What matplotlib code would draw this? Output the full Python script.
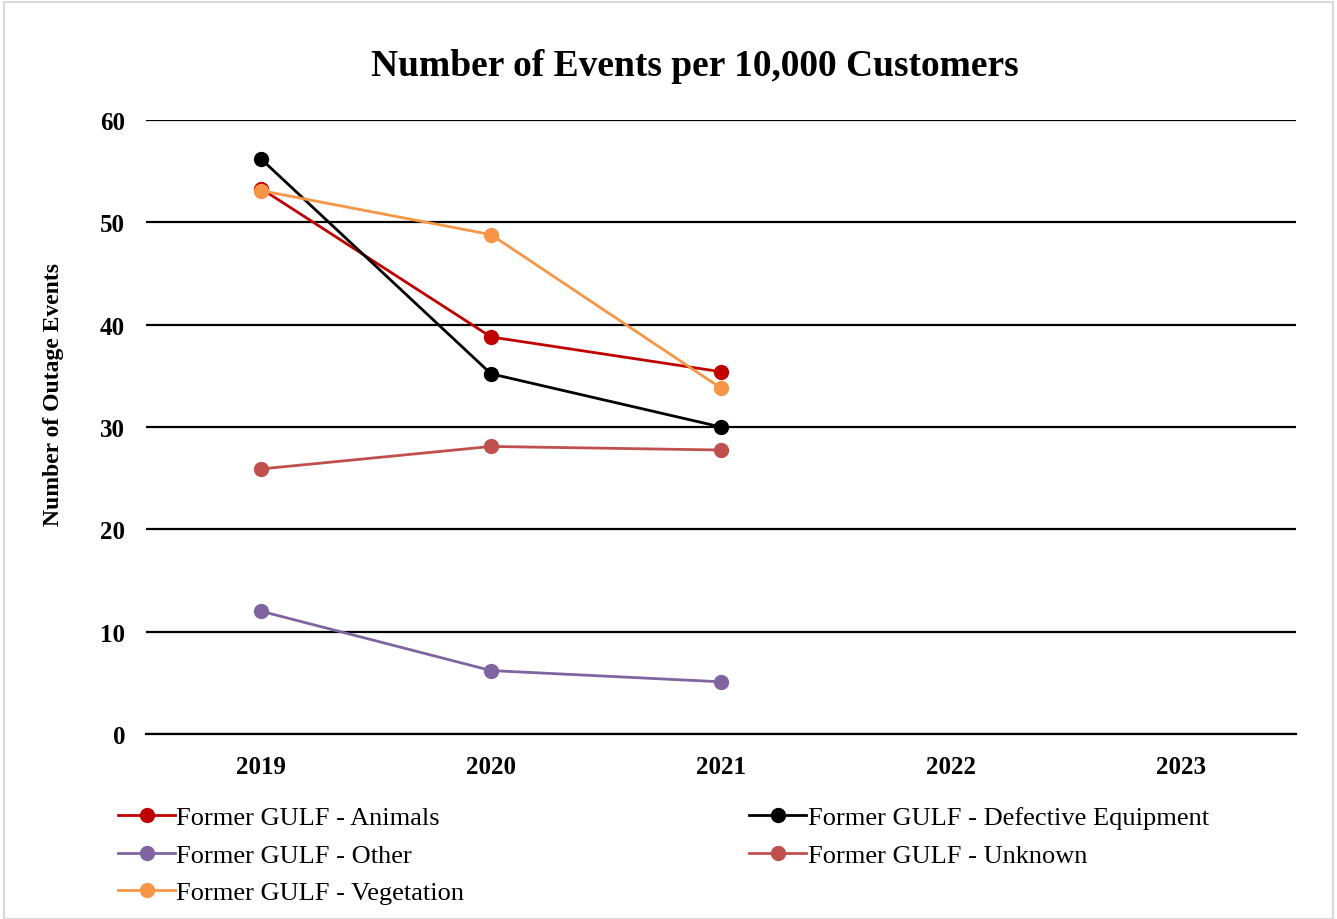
import matplotlib
matplotlib.use("Agg")
import matplotlib.pyplot as plt
from matplotlib.patches import Rectangle

years = ["2019", "2020", "2021", "2022", "2023"]
animals = [53.3, 38.8, 35.4]
defective = [56.2, 35.2, 30.0]
other = [12.0, 6.2, 5.1]
unknown = [25.9, 28.1, 27.75]
vegetation = [53.1, 48.8, 33.8]

series = [
    ("Former GULF - Animals", animals, "#C00000"),
    ("Former GULF - Defective Equipment", defective, "#000000"),
    ("Former GULF - Other", other, "#8064A2"),
    ("Former GULF - Unknown", unknown, "#C0504D"),
    ("Former GULF - Vegetation", vegetation, "#F79646"),
]

plt.rcParams['font.family'] = ['Liberation Serif', 'DejaVu Serif']

fig = plt.figure(figsize=(13.37, 9.2), dpi=100)
ax = fig.add_axes([146/1337, 1 - 735/920, 1150/1337, (735-121)/920])

xs = list(range(len(years)))
handles = {}
for name, vals, col in series:
    h, = ax.plot(xs[:len(vals)], vals, color=col, lw=2, marker='o', ms=10,
                 label=name, zorder=3)
    handles[name] = h

ax.set_xlim(-0.5, 4.5)
ax.set_ylim(0, 60)
ax.set_yticks(range(0, 61, 10))
ax.set_xticks(xs)
ax.set_xticklabels(years)
ax.yaxis.grid(True, color='black', lw=1.6)
ax.set_axisbelow(True)
for s in ['top', 'right', 'left']:
    ax.spines[s].set_visible(False)
ax.spines['bottom'].set_color('black')
ax.spines['bottom'].set_linewidth(1.6)
ax.tick_params(axis='both', length=0, labelsize=18)
ax.tick_params(axis='y', pad=15)
ax.tick_params(axis='x', pad=15)
for lab in ax.get_xticklabels() + ax.get_yticklabels():
    lab.set_fontweight('bold')

ax.set_ylabel("Number of Outage Events", fontsize=17, fontweight='bold')
ax.yaxis.set_label_coords((64 - 146) / 1150, (735 - 394.5) / 614)
fig.text(694.5/1337, 1 - 66/920, "Number of Events per 10,000 Customers",
         ha='center', va='center', fontsize=27, fontweight='bold')

order = ["Former GULF - Animals", "Former GULF - Other", "Former GULF - Vegetation",
         "Former GULF - Defective Equipment", "Former GULF - Unknown"]
leg = fig.legend([handles[n] for n in order], order, ncol=2,
                 loc='upper left', bbox_to_anchor=(118/1337, 1 - 807/920),
                 frameon=False, fontsize=19, handlelength=2.16, handletextpad=0.05,
                 columnspacing=10.8, labelspacing=0.53, borderaxespad=0, borderpad=0)

fig.patches.append(Rectangle((4/1337, 0), 1 - 8/1337, 1 - 3/920, transform=fig.transFigure,
                             fill=False, edgecolor='#D9D9D9', lw=1.5))

fig.savefig("out.png", dpi=100)
